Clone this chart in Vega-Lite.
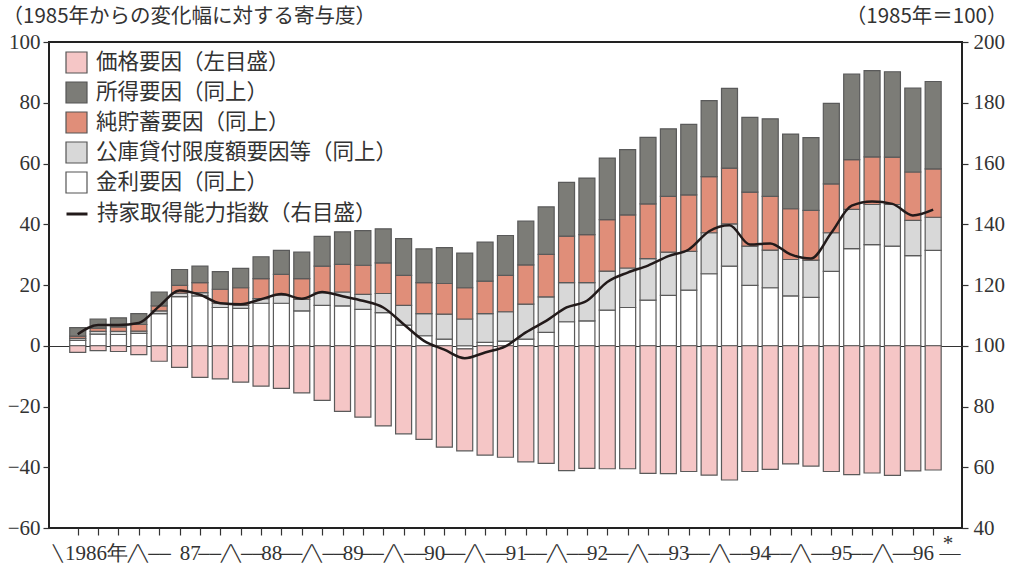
{
  "$schema": "https://vega.github.io/schema/vega-lite/v6.json",
  "width": 913,
  "height": 486,
  "autosize": "none",
  "padding": {"left": 49, "top": 42, "right": 47, "bottom": 43},
  "background": "white",
  "config": {
    "view": {"stroke": "#222", "strokeWidth": 2},
    "axis": {"labelFont": "Liberation Serif", "labelFontSize": 21, "labelColor": "#333", "tickColor": "#333", "tickWidth": 1.2, "domain": false, "titleFont": "Noto Sans CJK JP", "titleFontSize": 20.5, "titleFontWeight": "normal", "titleColor": "#333"}
  },
  "data": {"values": [
    {"q": 1, "rate": 1.8, "loan": 0.6, "saving": 0.8, "income": 2.8, "price": -2.2, "index": 103.8},
    {"q": 2, "rate": 3.8, "loan": 0.9, "saving": 1.1, "income": 3.0, "price": -1.6, "index": 106.8},
    {"q": 3, "rate": 3.7, "loan": 1.0, "saving": 1.5, "income": 3.0, "price": -1.9, "index": 106.8},
    {"q": 4, "rate": 4.1, "loan": 0.7, "saving": 2.2, "income": 3.6, "price": -2.9, "index": 107.5},
    {"q": 5, "rate": 10.6, "loan": 0.9, "saving": 1.6, "income": 4.6, "price": -5.1, "index": 113.0},
    {"q": 6, "rate": 16.2, "loan": 1.1, "saving": 2.6, "income": 5.2, "price": -7.1, "index": 118.2},
    {"q": 7, "rate": 16.4, "loan": 1.1, "saving": 3.3, "income": 5.4, "price": -10.4, "index": 116.8},
    {"q": 8, "rate": 12.6, "loan": 1.4, "saving": 4.6, "income": 5.8, "price": -10.9, "index": 114.0},
    {"q": 9, "rate": 12.3, "loan": 1.0, "saving": 5.8, "income": 6.4, "price": -12.0, "index": 113.7},
    {"q": 10, "rate": 14.0, "loan": 1.5, "saving": 6.6, "income": 7.2, "price": -13.3, "index": 115.3},
    {"q": 11, "rate": 14.0, "loan": 2.7, "saving": 6.8, "income": 7.9, "price": -14.0, "index": 117.0},
    {"q": 12, "rate": 11.5, "loan": 3.8, "saving": 6.8, "income": 8.7, "price": -15.5, "index": 115.5},
    {"q": 13, "rate": 13.3, "loan": 4.2, "saving": 8.7, "income": 9.8, "price": -18.0, "index": 117.7},
    {"q": 14, "rate": 13.1, "loan": 4.6, "saving": 9.1, "income": 10.7, "price": -21.6, "index": 116.3},
    {"q": 15, "rate": 12.0, "loan": 4.9, "saving": 9.6, "income": 11.4, "price": -23.5, "index": 114.8},
    {"q": 16, "rate": 10.9, "loan": 6.3, "saving": 10.1, "income": 11.2, "price": -26.4, "index": 112.6},
    {"q": 17, "rate": 6.8, "loan": 6.5, "saving": 9.9, "income": 12.1, "price": -29.0, "index": 107.1},
    {"q": 18, "rate": 3.3, "loan": 7.3, "saving": 10.2, "income": 11.1, "price": -30.8, "index": 101.6},
    {"q": 19, "rate": 2.2, "loan": 8.2, "saving": 10.1, "income": 11.8, "price": -33.4, "index": 98.7},
    {"q": 20, "rate": -1.0, "loan": 8.8, "saving": 10.3, "income": 11.4, "price": -33.6, "index": 95.9},
    {"q": 21, "rate": 1.1, "loan": 9.5, "saving": 10.7, "income": 12.8, "price": -36.0, "index": 97.8},
    {"q": 22, "rate": 1.5, "loan": 9.7, "saving": 12.0, "income": 13.1, "price": -36.7, "index": 99.8},
    {"q": 23, "rate": 2.2, "loan": 11.5, "saving": 12.9, "income": 14.4, "price": -38.2, "index": 104.4},
    {"q": 24, "rate": 4.4, "loan": 11.7, "saving": 14.0, "income": 15.6, "price": -38.7, "index": 108.2},
    {"q": 25, "rate": 7.9, "loan": 12.9, "saving": 15.3, "income": 17.7, "price": -41.1, "index": 112.6},
    {"q": 26, "rate": 8.2, "loan": 12.6, "saving": 15.8, "income": 18.6, "price": -40.4, "index": 114.8},
    {"q": 27, "rate": 11.7, "loan": 12.9, "saving": 16.9, "income": 20.3, "price": -40.5, "index": 121.0},
    {"q": 28, "rate": 12.6, "loan": 13.0, "saving": 17.5, "income": 21.5, "price": -40.5, "index": 124.1},
    {"q": 29, "rate": 15.0, "loan": 13.7, "saving": 18.0, "income": 21.9, "price": -42.0, "index": 126.4},
    {"q": 30, "rate": 16.6, "loan": 14.2, "saving": 18.4, "income": 22.2, "price": -42.1, "index": 129.5},
    {"q": 31, "rate": 18.3, "loan": 12.8, "saving": 18.6, "income": 23.2, "price": -41.4, "index": 131.7},
    {"q": 32, "rate": 23.7, "loan": 13.5, "saving": 18.5, "income": 25.0, "price": -42.6, "index": 137.7},
    {"q": 33, "rate": 26.2, "loan": 13.9, "saving": 18.4, "income": 26.2, "price": -44.2, "index": 139.7},
    {"q": 34, "rate": 19.9, "loan": 12.9, "saving": 17.8, "income": 24.6, "price": -41.4, "index": 133.3},
    {"q": 35, "rate": 19.1, "loan": 12.4, "saving": 17.7, "income": 25.5, "price": -40.7, "index": 133.7},
    {"q": 36, "rate": 16.4, "loan": 12.0, "saving": 16.7, "income": 24.6, "price": -38.9, "index": 130.1},
    {"q": 37, "rate": 15.9, "loan": 12.3, "saving": 16.4, "income": 23.9, "price": -39.6, "index": 128.7},
    {"q": 38, "rate": 24.5, "loan": 12.7, "saving": 16.1, "income": 26.5, "price": -41.4, "index": 137.2},
    {"q": 39, "rate": 32.0, "loan": 12.9, "saving": 16.4, "income": 28.1, "price": -42.4, "index": 146.1},
    {"q": 40, "rate": 33.3, "loan": 13.2, "saving": 15.7, "income": 28.4, "price": -41.9, "index": 147.5},
    {"q": 41, "rate": 32.8, "loan": 13.7, "saving": 15.6, "income": 28.1, "price": -42.7, "index": 146.7},
    {"q": 42, "rate": 29.7, "loan": 11.6, "saving": 15.9, "income": 27.6, "price": -41.2, "index": 142.9},
    {"q": 43, "rate": 31.4, "loan": 10.9, "saving": 15.9, "income": 28.8, "price": -40.9, "index": 144.8}
  ]},
  "encoding": {
    "x": {
      "field": "q", "type": "quantitative",
      "scale": {"domain": [-0.165, 44.17], "nice": false, "zero": false},
      "axis": {
        "title": null,
        "values": [1,2,3,4,5,6,7,8,9,10,11,12,13,14,15,16,17,18,19,20,21,22,23,24,25,26,27,28,29,30,31,32,33,34,35,36,37,38,39,40,41,42,43,0,1.9,4.5,6.5,8.5,10.5,12.5,14.5,16.5,18.5,20.5,22.5,24.5,26.5,28.5,30.5,32.5,34.5,36.5,38.5,40.5,42.5,43.7,43.8],
        "labelExpr": "datum.value == 0 ? '╲' : datum.value == 1.9 ? '1986年' : datum.value == 43.8 ? '—' : datum.value == 43.7 ? '*' : datum.value == 4.5 ? '╱╲──' : (datum.value % 4 == 0.5) ? '──╱╲──' : (datum.value % 4 == 2.5) ? '' + (86 + (datum.value - 2.5) / 4) : ''",
        "labelOverlap": false,
        "labelFlush": false,
        "labelBound": false,
        "tickSize": 7,
        "labelPadding": 18,
        "labelFontSize": {"condition": {"test": "datum.value % 4 == 0.5 || datum.value == 0", "value": 16}, "value": 21},
        "labelBaseline": {"condition": {"test": "datum.value == 43.7", "value": "bottom"}, "value": "middle"},
        "tickOpacity": {"condition": {"test": "datum.value % 1 != 0 || datum.value == 0", "value": 0}, "value": 1},
        "grid": false
      }
    }
  },
  "layer": [
    {
      "transform": [
        {"fold": ["rate", "loan", "saving", "income", "price"], "as": ["k", "v"]},
        {"calculate": "indexof(['rate','loan','saving','income','price'], datum.k)", "as": "o"}
      ],
      "mark": {"type": "bar", "size": 16, "stroke": "#5a5a5a", "strokeWidth": 1.2},
      "encoding": {
        "y": {
          "field": "v", "type": "quantitative", "stack": "zero",
          "scale": {"domain": [-60, 100], "nice": false},
          "axis": {
            "orient": "left",
            "values": [-60, -40, -20, 0, 20, 40, 60, 80, 100],
            "tickSize": 6, "labelPadding": 3,
            "grid": true, "gridColor": "#333", "gridWidth": 1.2,
            "gridOpacity": {"condition": {"test": "datum.value === 0", "value": 1}, "value": 0},
            "title": "（1985年からの変化幅に対する寄与度）",
            "titleAngle": 0, "titleAlign": "left", "titleBaseline": "middle",
            "titleX": -47, "titleY": -26
          }
        },
        "color": {
          "field": "k", "type": "nominal",
          "scale": {"domain": ["price", "income", "saving", "loan", "rate"], "range": ["#f5c6c6", "#7c7c77", "#e08e79", "#d8d8d8", "#ffffff"]},
          "legend": {
            "orient": "none", "legendX": 16, "legendY": 9, "title": null,
            "symbolType": "square", "symbolSize": 441,
            "symbolStrokeColor": "#555", "symbolStrokeWidth": 1.2,
            "labelFont": "Noto Sans CJK JP", "labelFontSize": 21.5, "labelColor": "#333",
            "rowPadding": 3, "labelOffset": 8, "padding": 0, "labelLimit": 600,
            "labelExpr": "datum.label == 'price' ? '価格要因（左目盛）' : datum.label == 'income' ? '所得要因（同上）' : datum.label == 'saving' ? '純貯蓄要因（同上）' : datum.label == 'loan' ? '公庫貸付限度額要因等（同上）' : '金利要因（同上）'"
          }
        },
        "order": {"field": "o", "type": "quantitative"}
      }
    },
    {
      "mark": {"type": "line", "strokeWidth": 2.5, "interpolate": "monotone"},
      "encoding": {
        "y": {
          "field": "index", "type": "quantitative",
          "scale": {"domain": [40, 200], "nice": false, "zero": false},
          "axis": {
            "orient": "right",
            "values": [40, 60, 80, 100, 120, 140, 160, 180, 200],
            "tickSize": 6, "labelPadding": 5,
            "title": "（1985年＝100）",
            "titleAngle": 0, "titleAlign": "right", "titleBaseline": "middle",
            "titleX": 45, "titleY": -26
          }
        },
        "stroke": {
          "datum": "持家取得能力指数（右目盛）",
          "scale": {"range": ["#221a1a"]},
          "legend": {
            "orient": "none", "legendX": 16, "legendY": 160, "title": null,
            "symbolType": "stroke", "symbolSize": 441, "symbolStrokeWidth": 3,
            "labelFont": "Noto Sans CJK JP", "labelFontSize": 21.5, "labelColor": "#333",
            "labelOffset": 8, "padding": 0, "labelLimit": 600
          }
        }
      }
    }
  ],
  "resolve": {"scale": {"y": "independent"}}
}
